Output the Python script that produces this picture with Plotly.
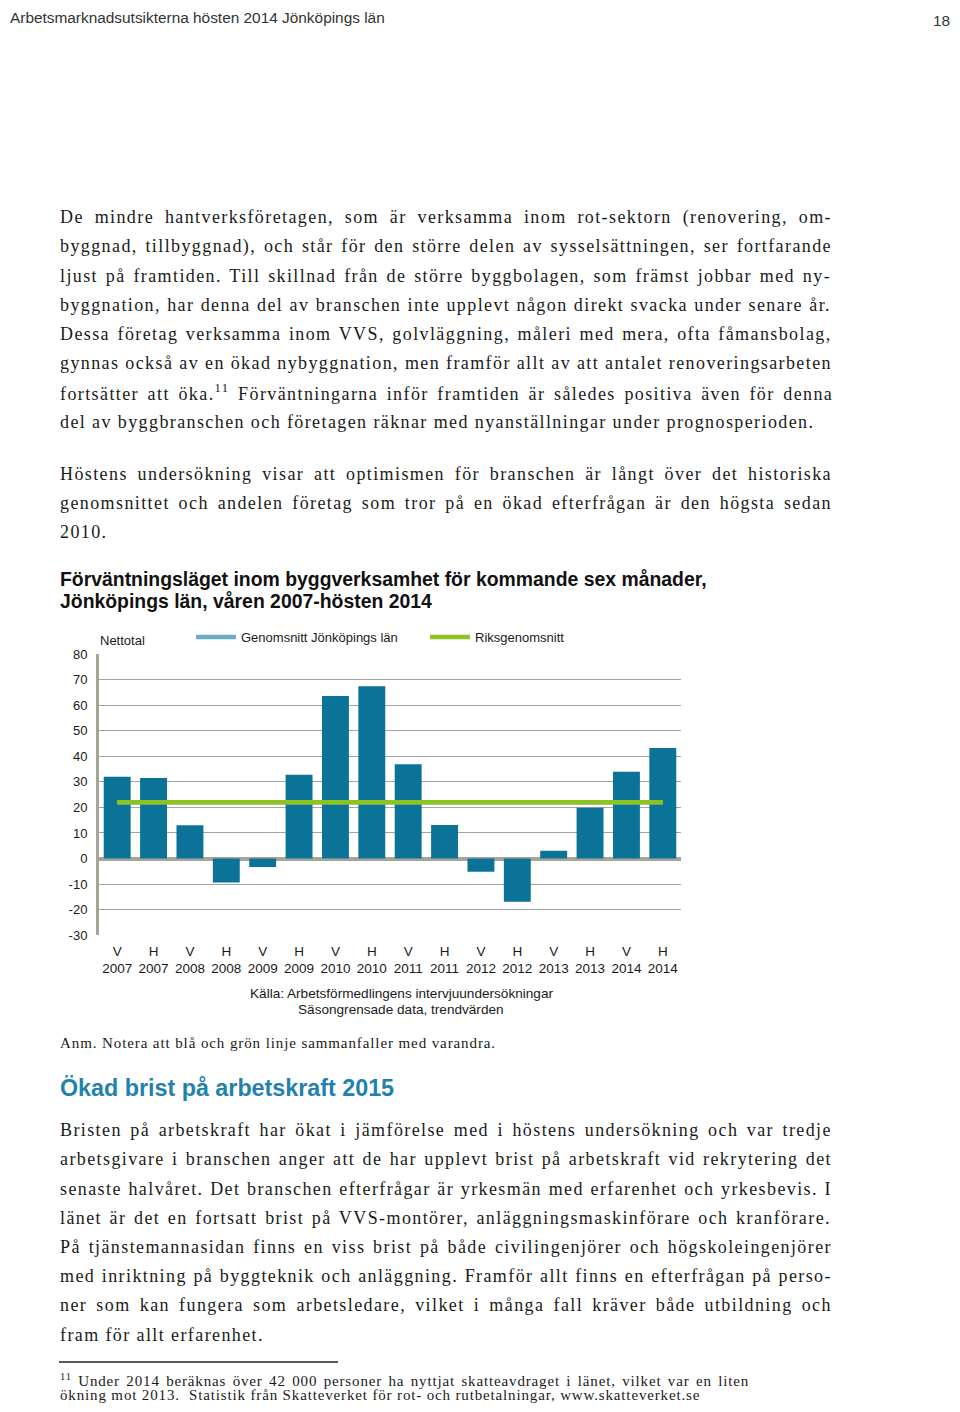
import plotly.graph_objects as go

# the page sits inside the default 8px body margin of the html page
OFF = 8
W, H = 960 - 2 * OFF, 1412 - 2 * OFF
# measured vertical mapping of the rendered page (page_y = K * y + C)
K, C = 0.9893, 6.9

# ---- chart data ----
halvar = ["V", "H", "V", "H", "V", "H", "V", "H", "V", "H", "V", "H", "V", "H", "V", "H"]
ar = ["2007", "2007", "2008", "2008", "2009", "2009", "2010", "2010",
      "2011", "2011", "2012", "2012", "2013", "2013", "2014", "2014"]
nettotal = [32, 31.5, 13, -9.4, -3.3, 32.8, 63.6, 67.4, 36.9, 13.1, -5.2, -16.9, 3.0, 19.9, 34, 43.3]
genomsnitt_jkpg = [22, 22, 22, 22, 22, 22, 22, 22, 22, 22, 22, 22, 22, 22, 22, 22]
riksgenomsnitt = [22, 22, 22, 22, 22, 22, 22, 22, 22, 22, 22, 22, 22, 22, 22, 22]
y_ticks = [80, 70, 60, 50, 40, 30, 20, 10, 0, -10, -20, -30]

# ---- page text ----
header = "Arbetsmarknadsutsikterna hösten 2014 Jönköpings län"
page_no = "18"
para1 = [
    "De mindre hantverksföretagen, som är verksamma inom rot-sektorn (renovering, om-",
    "byggnad, tillbyggnad), och står för den större delen av sysselsättningen, ser fortfarande",
    "ljust på framtiden. Till skillnad från de större byggbolagen, som främst jobbar med ny-",
    "byggnation, har denna del av branschen inte upplevt någon direkt svacka under senare år.",
    "Dessa företag verksamma inom VVS, golvläggning, måleri med mera, ofta fåmansbolag,",
    "gynnas också av en ökad nybyggnation, men framför allt av att antalet renoveringsarbeten",
    "fortsätter att öka.^11 Förväntningarna inför framtiden är således positiva även för denna",
    "del av byggbranschen och företagen räknar med nyanställningar under prognosperioden.",
]
para2 = [
    "Höstens undersökning visar att optimismen för branschen är långt över det historiska",
    "genomsnittet och andelen företag som tror på en ökad efterfrågan är den högsta sedan",
    "2010.",
]
chart_title = ["Förväntningsläget inom byggverksamhet för kommande sex månader,",
               "Jönköpings län, våren 2007-hösten 2014"]
source = ["Källa: Arbetsförmedlingens intervjuundersökningar", "Säsongrensade data, trendvärden"]
note = "Anm. Notera att blå och grön linje sammanfaller med varandra."
heading2 = "Ökad brist på arbetskraft 2015"
para3 = [
    "Bristen på arbetskraft har ökat i jämförelse med i höstens undersökning och var tredje",
    "arbetsgivare i branschen anger att de har upplevt brist på arbetskraft vid rekrytering det",
    "senaste halvåret. Det branschen efterfrågar är yrkesmän med erfarenhet och yrkesbevis. I",
    "länet är det en fortsatt brist på VVS-montörer, anläggningsmaskinförare och kranförare.",
    "På tjänstemannasidan finns en viss brist på både civilingenjörer och högskoleingenjörer",
    "med inriktning på byggteknik och anläggning. Framför allt finns en efterfrågan på perso-",
    "ner som kan fungera som arbetsledare, vilket i många fall kräver både utbildning och",
    "fram för allt erfarenhet.",
]
footnote = [
    "^11 Under 2014 beräknas över 42 000 personer ha nyttjat skatteavdraget i länet, vilket var en liten",
    "ökning mot 2013.  Statistik från Skatteverket för rot- och rutbetalningar, www.skatteverket.se",
]

SANS = "Liberation Sans, Arial, sans-serif"
SERIF = "Liberation Serif, Times New Roman, serif"
BAR = "#0b7398"
GREEN = "#8cc31e"
LIGHTBLUE = "#6cabc8"

# Times / Liberation Serif advance widths (1/1000 em), used to justify lines
TW = {
    "a": 444, "b": 500, "c": 444, "d": 500, "e": 444, "f": 333, "g": 500, "h": 500, "i": 278,
    "j": 278, "k": 500, "l": 278, "m": 778, "n": 500, "o": 500, "p": 500, "q": 500, "r": 333,
    "s": 389, "t": 278, "u": 500, "v": 500, "w": 722, "x": 500, "y": 500, "z": 444,
    "å": 444, "ä": 444, "ö": 500, "é": 444,
    "A": 722, "B": 667, "C": 667, "D": 722, "E": 611, "F": 556, "G": 722, "H": 722, "I": 333,
    "J": 389, "K": 722, "L": 611, "M": 889, "N": 722, "O": 722, "P": 556, "Q": 722, "R": 667,
    "S": 556, "T": 611, "U": 722, "V": 722, "W": 944, "X": 722, "Y": 722, "Z": 611,
    "Å": 722, "Ä": 722, "Ö": 722,
    " ": 250, ",": 250, ".": 250, "-": 333, "(": 333, ")": 333, ":": 278,
}


def px(x):
    return (x - OFF) / W


def py(y):
    y = (y - C) / K
    return 1 - (y - OFF) / H


def text_width(s, size, ls):
    return sum(TW.get(ch, 500) * size / 1000 + ls for ch in s)


def body_line(s, size, ls, target, justify):
    sup_w = 0.0
    plain = s
    if "^11" in s:
        sup_w = text_width("11", size * 0.6, ls)
        plain = s.replace("^11", "")
    ws = 0.0
    if justify:
        nat = text_width(plain, size, ls) + sup_w
        n_sp = plain.count(" ")
        if n_sp:
            ws = max(0.0, (target - nat) / n_sp)
    html = s.replace("^11", "<sup>11</sup>")
    return f'<span style="letter-spacing:{ls}px;word-spacing:{ws:.2f}px">{html}</span>'


annotations = []


def add_text(x, y, text, size, family, color="#1a1a1a", anchor="left", bold=False):
    if bold:
        text = f"<b>{text}</b>"
    annotations.append(dict(
        x=px(x), y=py(y), xref="paper", yref="paper", text=text, showarrow=False,
        xanchor=anchor, yanchor="middle", align=anchor,
        font=dict(size=size, family=family, color=color),
    ))


def add_paragraph(lines, y0, step, size=18, ls=1.4):
    for i, line in enumerate(lines):
        last = i == len(lines) - 1
        add_text(58, y0 + i * step, body_line(line, size, ls, 772, not last), size, SERIF)


fig = go.Figure()

fig.add_trace(go.Bar(
    x=list(range(16)), y=nettotal, marker=dict(color=BAR, line=dict(width=0)),
    width=0.74, showlegend=False, hoverinfo="skip",
))
fig.add_trace(go.Scatter(
    x=list(range(16)), y=genomsnitt_jkpg, mode="lines", name="Genomsnitt Jönköpings län",
    line=dict(color=LIGHTBLUE, width=4.5),
))
fig.add_trace(go.Scatter(
    x=list(range(16)), y=riksgenomsnitt, mode="lines", name="Riksgenomsnitt",
    line=dict(color=GREEN, width=4.5),
))

fig.update_xaxes(
    domain=[px(99), px(681)], range=[-0.5, 15.5],
    tickmode="array", tickvals=list(range(16)),
    ticktext=[f"{h}<br>{a}" for h, a in zip(halvar, ar)],
    tickfont=dict(size=13.5, family=SANS, color="#1a1a1a"),
    showgrid=False, zeroline=False, showline=False, ticks="", ticklabelstandoff=6,
)
fig.update_yaxes(
    domain=[py(935), py(654)], range=[-30, 80],
    tickmode="array", tickvals=y_ticks, ticktext=[str(v) for v in y_ticks],
    tickfont=dict(size=13, family=SANS, color="#1a1a1a"),
    showgrid=True, gridcolor="#a3a3a3", gridwidth=1,
    zeroline=True, zerolinecolor="#a9a498", zerolinewidth=3.5,
    showline=True, linecolor="#a9a498", linewidth=3,
    ticks="", ticklabelstandoff=6,
)

# header (kept just inside the drawable page area)
add_text(8, 17, header, 15.4, SANS, color="#333333")
add_text(952, 20, page_no, 15.4, SANS, color="#333333", anchor="right")

add_paragraph(para1, 217, 29.2)
add_paragraph(para2, 474, 29)

for i, t in enumerate(chart_title):
    add_text(58, 579 + i * 22, t, 19.4, SANS, color="#111111", bold=True)

add_text(98, 640, "Nettotal", 13, SANS)
for i, t in enumerate(source):
    add_text(401, 993 + i * 16, t, 13.6, SANS, anchor="center")

add_text(58, 1043, f'<span style="letter-spacing:0.9px">{note}</span>', 15, SERIF)
add_text(58, 1088, heading2, 23.3, SANS, color="#1f82ad", bold=True)
add_paragraph(para3, 1130, 29.2)

for i, t in enumerate(footnote):
    add_text(58, 1380 + i * 14.5, body_line(t, 15, 0.85, 688, i == 0), 15, SERIF)

fig.add_shape(type="line", xref="paper", yref="paper",
              x0=px(59), x1=px(338), y0=py(1362), y1=py(1362),
              line=dict(color="#222222", width=1.5))

fig.update_layout(
    width=W, height=H, autosize=False,
    margin=dict(l=0, r=0, t=0, b=0),
    paper_bgcolor="white", plot_bgcolor="white",
    bargap=0.26,
    annotations=annotations,
    legend=dict(
        orientation="h", x=px(191), y=py(637), xanchor="left", yanchor="middle",
        font=dict(size=13, family=SANS, color="#1a1a1a"),
        itemwidth=40, entrywidth=179, entrywidthmode="pixels",
        bgcolor="rgba(0,0,0,0)", tracegroupgap=0,
    ),
)

fig.write_html("out.html")
